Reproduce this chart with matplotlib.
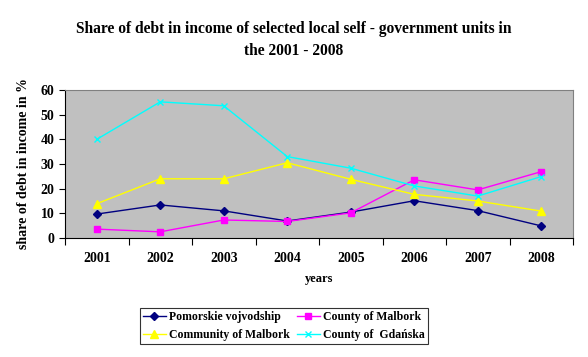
import numpy as np
import matplotlib
matplotlib.use('Agg')
import matplotlib.pyplot as plt

years = ['2001', '2002', '2003', '2004', '2005', '2006', '2007', '2008']
pomorskie = [9.7, 13.4, 11.0, 6.9, 10.5, 15.1, 11.1, 4.9]
county_malbork = [3.6, 2.5, 7.3, 6.7, 10.2, 23.6, 19.5, 26.9]
community_malbork = [13.9, 24.0, 24.0, 30.5, 23.8, 17.7, 15.0, 10.9]
county_gdanska = [40.0, 55.2, 53.6, 33.0, 28.3, 21.1, 17.0, 24.9]

plt.rcParams['font.family'] = ['Liberation Serif', 'DejaVu Serif']
plt.rcParams['font.weight'] = 'bold'

fig = plt.figure(figsize=(5.88, 3.57), dpi=100)
ax = fig.add_axes([65/588, 1-238/357, 508/588, 148/357])
ax.set_facecolor('#C0C0C0')
x = np.arange(len(years))

l1, = ax.plot(x, pomorskie, color='#000080', marker='D', ms=4, lw=1, label='Pomorskie vojvodship')
l2, = ax.plot(x, county_malbork, color='#FF00FF', marker='s', ms=5, lw=1, label='County of Malbork')
l3, = ax.plot(x, community_malbork, color='#FFFF00', marker='^', ms=6, lw=1, label='Community of Malbork')
l4, = ax.plot(x, county_gdanska, color='#00FFFF', marker='x', ms=5, lw=1, mew=1, label='County of  Gdańska')

ax.set_xlim(-0.5, len(years) - 0.5)
ax.set_ylim(0, 60)
ax.set_yticks(range(0, 61, 10))
ax.set_xticks(np.arange(-0.5, len(years), 1))
ax.set_xticklabels([])
ax.set_xticks(x, minor=True)
ax.set_xticklabels(years, minor=True, fontsize=10, fontweight='bold')
ax.tick_params(axis='x', which='minor', length=0, pad=10)
ax.tick_params(axis='x', which='major', length=5, direction='out')
ax.tick_params(axis='y', length=4, direction='out', labelsize=10)
for s in ['top', 'right']:
    ax.spines[s].set_color('#808080')
ax.spines['left'].set_color('black')
ax.spines['bottom'].set_color('black')

ax.set_xlabel('years', fontsize=9, fontweight='bold', labelpad=6)
ax.set_ylabel('share of debt in income in %', fontsize=10, fontweight='bold', labelpad=8)

fig.text(0.5, 1-40/357, 'Share of debt in income of selected local self - government units in\nthe 2001 - 2008',
         ha='center', va='center', fontsize=11.2, fontweight='bold', linespacing=1.45)

leg = ax.legend([l1, l3, l2, l4], [l.get_label() for l in [l1, l3, l2, l4]],
                loc='center', bbox_to_anchor=(284/588, 1-326/357), bbox_transform=fig.transFigure,
                ncol=2, fontsize=8.5, frameon=True, fancybox=False, edgecolor='black',
                handlelength=1.9, columnspacing=0.6, handletextpad=0.3, borderpad=0.3, labelspacing=0.45)
leg.get_frame().set_linewidth(0.8)

fig.savefig('out.png', dpi=100)
